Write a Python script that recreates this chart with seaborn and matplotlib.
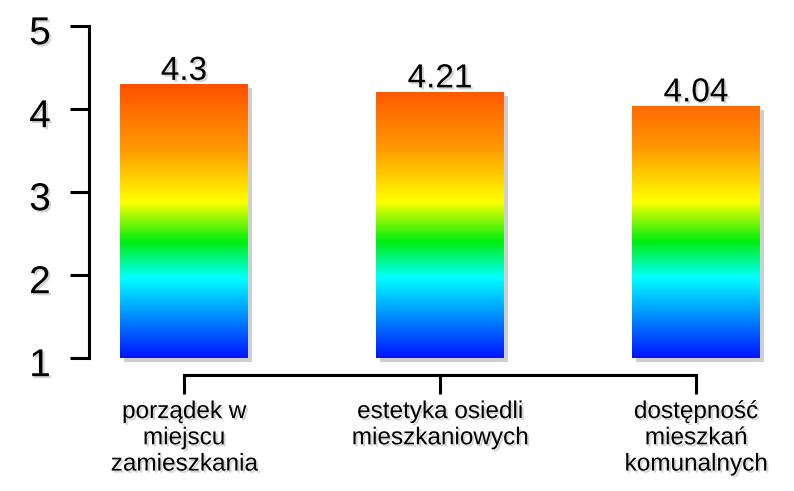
import numpy as np
import pandas as pd
import seaborn as sns
import matplotlib.pyplot as plt
import matplotlib.patheffects as pe
from matplotlib.colors import LinearSegmentedColormap
from matplotlib.transforms import ScaledTranslation

# data
categories = ["porządek w\nmiejscu\nzamieszkania",
              "estetyka osiedli\nmieszkaniowych",
              "dostępność\nmieszkań\nkomunalnych"]
values = [4.3, 4.21, 4.04]
value_labels = ["4.3", "4.21", "4.04"]
y_ticks = [1, 2, 3, 4, 5]

sns.set_style("ticks")
plt.rcParams["font.family"] = ["Liberation Sans", "DejaVu Sans"]
plt.rcParams["text.color"] = "black"
plt.rcParams["xtick.color"] = "black"
plt.rcParams["ytick.color"] = "black"

df = pd.DataFrame({"cat": categories, "val": values})

# gradient runs with the value axis: blue at 1, red-orange near the top
cmap = LinearSegmentedColormap.from_list("rainbow_bar", [
    (0.0, "#0014ff"),
    (0.24, "#00ffff"),
    (0.35, "#00ee10"),
    (0.47, "#ffff00"),
    (0.63, "#ff9a00"),
    (0.83, "#ff4e00"),
    (1.0, "#ff3000"),
])

fig = plt.figure(figsize=(7.94, 4.91), dpi=100)
ax = fig.add_axes([89 / 794, 1 - 358 / 491, (794 - 89) / 794, (358 - 26) / 491])

sns.barplot(data=df, x="cat", y="val", width=0.5, color="#ff8800", ax=ax)

shadow = pe.SimplePatchShadow(offset=(3, -3), shadow_rgbFace="#777777", alpha=0.35)
txt_shadow = [pe.SimplePatchShadow(offset=(1.5, -1.5), shadow_rgbFace="#888888", alpha=0.35), pe.Normal()]

grad = np.linspace(1, 5, 400).reshape(-1, 1)
for p, v in zip(ax.patches, values):
    # bars start at the axis floor (1)
    p.set_y(1)
    p.set_height(v - 1)
    p.set_linewidth(0)
    p.set_clip_on(False)
    p.set_path_effects([shadow, pe.Normal()])
    x0 = p.get_x()
    im = ax.imshow(grad, cmap=cmap, vmin=1, vmax=5, origin="lower",
                   extent=[x0, x0 + p.get_width(), 1, 5], aspect="auto", zorder=3)
    im.set_clip_path(p)

ax.bar_label(ax.containers[0], labels=value_labels, padding=-2, fontsize=24,
             path_effects=txt_shadow)

ax.set_xlim(-0.371, 2.383)
ax.set_ylim(1, 5)
ax.set_yticks(y_ticks)
ax.set_xlabel("")
ax.set_ylabel("")

sns.despine(ax=ax)
ax.spines["bottom"].set_position(("outward", 12.5))
ax.spines["bottom"].set_bounds(0, 2)
ax.spines["left"].set_bounds(1, 5)
for s in ["left", "bottom"]:
    ax.spines[s].set_linewidth(2.2)
    ax.spines[s].set_color("black")

ax.tick_params(axis="y", direction="out", length=13.5, width=2.2, pad=14, labelsize=28)
ax.tick_params(axis="x", direction="out", length=13.5, width=2.2, pad=5, labelsize=17.5)
for lab in ax.get_xticklabels():
    lab.set_linespacing(1.25)
    lab.set_path_effects(txt_shadow)
for lab in ax.get_yticklabels():
    lab.set_path_effects(txt_shadow)
    lab.set_transform(lab.get_transform() + ScaledTranslation(0, -3 / 72, fig.dpi_scale_trans))

fig.savefig("out.png", dpi=100)
